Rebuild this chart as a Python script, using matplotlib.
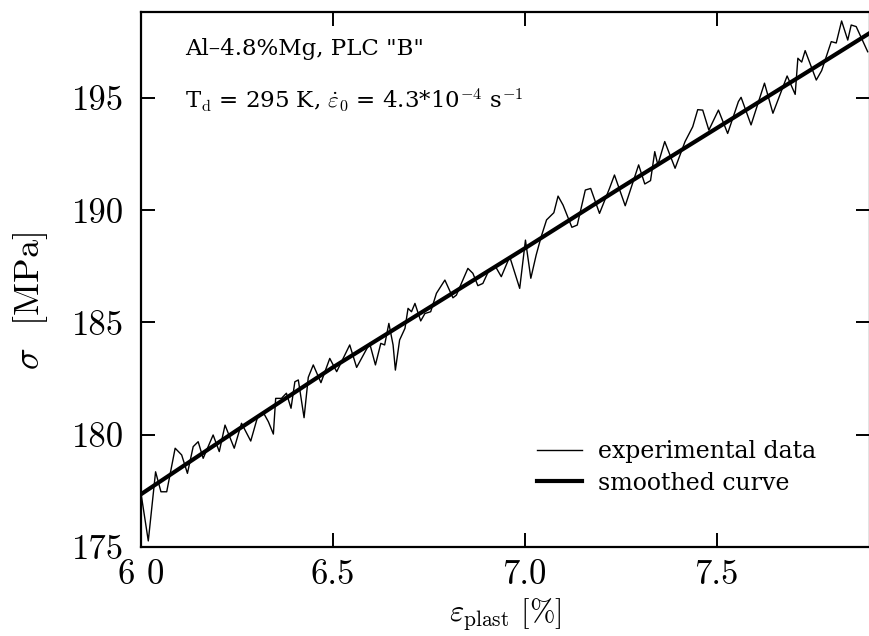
import matplotlib
matplotlib.use("Agg")
import matplotlib.pyplot as plt
from matplotlib.ticker import FixedLocator, FixedFormatter

plt.rcParams["mathtext.fontset"] = "cm"
plt.rcParams["axes.unicode_minus"] = False

exp_strain = [6.000, 6.019, 6.038, 6.052, 6.067, 6.089, 6.106, 6.121, 6.136, 6.149,
              6.162, 6.188, 6.204, 6.219, 6.243, 6.262, 6.286, 6.304, 6.321, 6.332,
              6.345, 6.351, 6.366, 6.379, 6.391, 6.401, 6.410, 6.425, 6.436, 6.449,
              6.469, 6.492, 6.510, 6.544, 6.562, 6.596, 6.611, 6.625, 6.635, 6.646,
              6.657, 6.663, 6.674, 6.688, 6.696, 6.705, 6.714, 6.729, 6.740, 6.755,
              6.770, 6.792, 6.813, 6.822, 6.837, 6.852, 6.865, 6.878, 6.891, 6.905,
              6.924, 6.939, 6.961, 6.987, 7.002, 7.016, 7.030, 7.043, 7.057, 7.076,
              7.087, 7.100, 7.123, 7.137, 7.158, 7.172, 7.195, 7.221, 7.234, 7.262,
              7.297, 7.313, 7.328, 7.339, 7.347, 7.365, 7.392, 7.418, 7.438, 7.451,
              7.464, 7.480, 7.505, 7.529, 7.557, 7.564, 7.590, 7.625, 7.647, 7.684,
              7.705, 7.712, 7.722, 7.731, 7.760, 7.774, 7.799, 7.812, 7.826, 7.842,
              7.851, 7.864, 7.894]
exp_stress = [177.39, 175.27, 178.35, 177.46, 177.46, 179.40, 179.10, 178.28, 179.47, 179.69,
              178.95, 179.99, 179.25, 180.43, 179.40, 180.51, 179.72, 180.80, 180.92, 180.58,
              180.03, 181.62, 181.62, 181.85, 181.18, 182.36, 182.44, 180.76, 182.56, 183.11,
              182.32, 183.40, 182.81, 184.00, 183.00, 184.07, 183.11, 184.07, 184.00, 184.96,
              184.00, 182.88, 184.22, 184.74, 185.63, 185.48, 185.85, 185.07, 185.40, 185.48,
              186.30, 186.89, 186.10, 186.22, 186.82, 187.41, 187.19, 186.64, 186.74, 187.26,
              187.49, 187.04, 187.93, 186.52, 188.67, 186.97, 188.01, 188.82, 189.57, 189.89,
              190.63, 190.23, 189.24, 189.34, 190.90, 190.97, 189.86, 190.97, 191.57, 190.20,
              192.02, 191.17, 191.32, 192.61, 192.02, 193.06, 191.87, 193.06, 193.72, 194.48,
              194.46, 193.57, 194.46, 193.42, 194.84, 195.03, 193.80, 195.66, 194.32, 195.98,
              195.16, 196.77, 196.60, 197.11, 195.80, 196.22, 197.51, 197.45, 198.43, 197.58,
              198.25, 198.18, 197.06]

# smoothed curve
smooth_strain = [6.0, 6.25, 6.5, 6.75, 7.0, 7.25, 7.5, 7.75, 7.9]
smooth_stress = [177.35, 180.2, 183.0, 185.65, 188.3, 191.0, 193.65, 196.3, 197.9]

x_ticks = [6.0, 6.5, 7.0, 7.5]
x_labels = ["6 0", "6.5", "7.0", "7.5"]
y_ticks = [175, 180, 185, 190, 195]
y_labels = ["175", "180", "185", "190", "195"]

CM = ["cmr10", "DejaVu Serif"]
SERIF = ["DejaVu Serif"]

fig = plt.figure(figsize=(8.7, 6.36), dpi=100)
ax = fig.add_axes([141 / 870, 89 / 636, 729 / 870, 535 / 636])

ax.plot(exp_strain, exp_stress, color="black", lw=1.0, label="experimental data")
ax.plot(smooth_strain, smooth_stress, color="black", lw=3.0, label="smoothed curve")

ax.set_xlim(6.0, 7.9)
ax.set_ylim(175, 198.83)

for s in ax.spines.values():
    s.set_linewidth(1.6)

ax.xaxis.set_major_locator(FixedLocator(x_ticks))
ax.xaxis.set_major_formatter(FixedFormatter(x_labels))
ax.yaxis.set_major_locator(FixedLocator(y_ticks))
ax.yaxis.set_major_formatter(FixedFormatter(y_labels))
ax.tick_params(direction="in", length=10, width=1.4, top=True, right=True,
               labelsize=25, pad=12)
ax.tick_params(axis="x", pad=9)
for lab in ax.get_xticklabels() + ax.get_yticklabels():
    lab.set_family(CM)

ax.set_xlabel(r"$\varepsilon_{\rm plast}$" + " [%]", fontsize=22, family=CM)
ax.xaxis.set_label_coords(0.5, -0.092, transform=ax.transAxes)
ax.set_ylabel(r"$\sigma$" + "  [MPa]", fontsize=26, family=CM)
ax.yaxis.set_label_coords(-0.125, 0.46, transform=ax.transAxes)

ax.text(0.06, 0.92, "Al\u20134.8%Mg, PLC \"B\"", transform=ax.transAxes,
        fontsize=16.5, family=SERIF)
ax.text(0.06, 0.82, r"T$_{\rm d}$ = 295 K, $\dot{\varepsilon}_0$ = 4.3*10$^{-4}$ s$^{-1}$",
        transform=ax.transAxes, fontsize=16.5, family=SERIF)

leg = ax.legend(loc="lower left", bbox_to_anchor=(0.53, 0.08), borderaxespad=0,
                frameon=False, prop={"family": SERIF, "size": 17}, handlelength=1.9,
                labelspacing=0.35, handletextpad=0.7)

fig.savefig("out.png", dpi=100, facecolor="white")
